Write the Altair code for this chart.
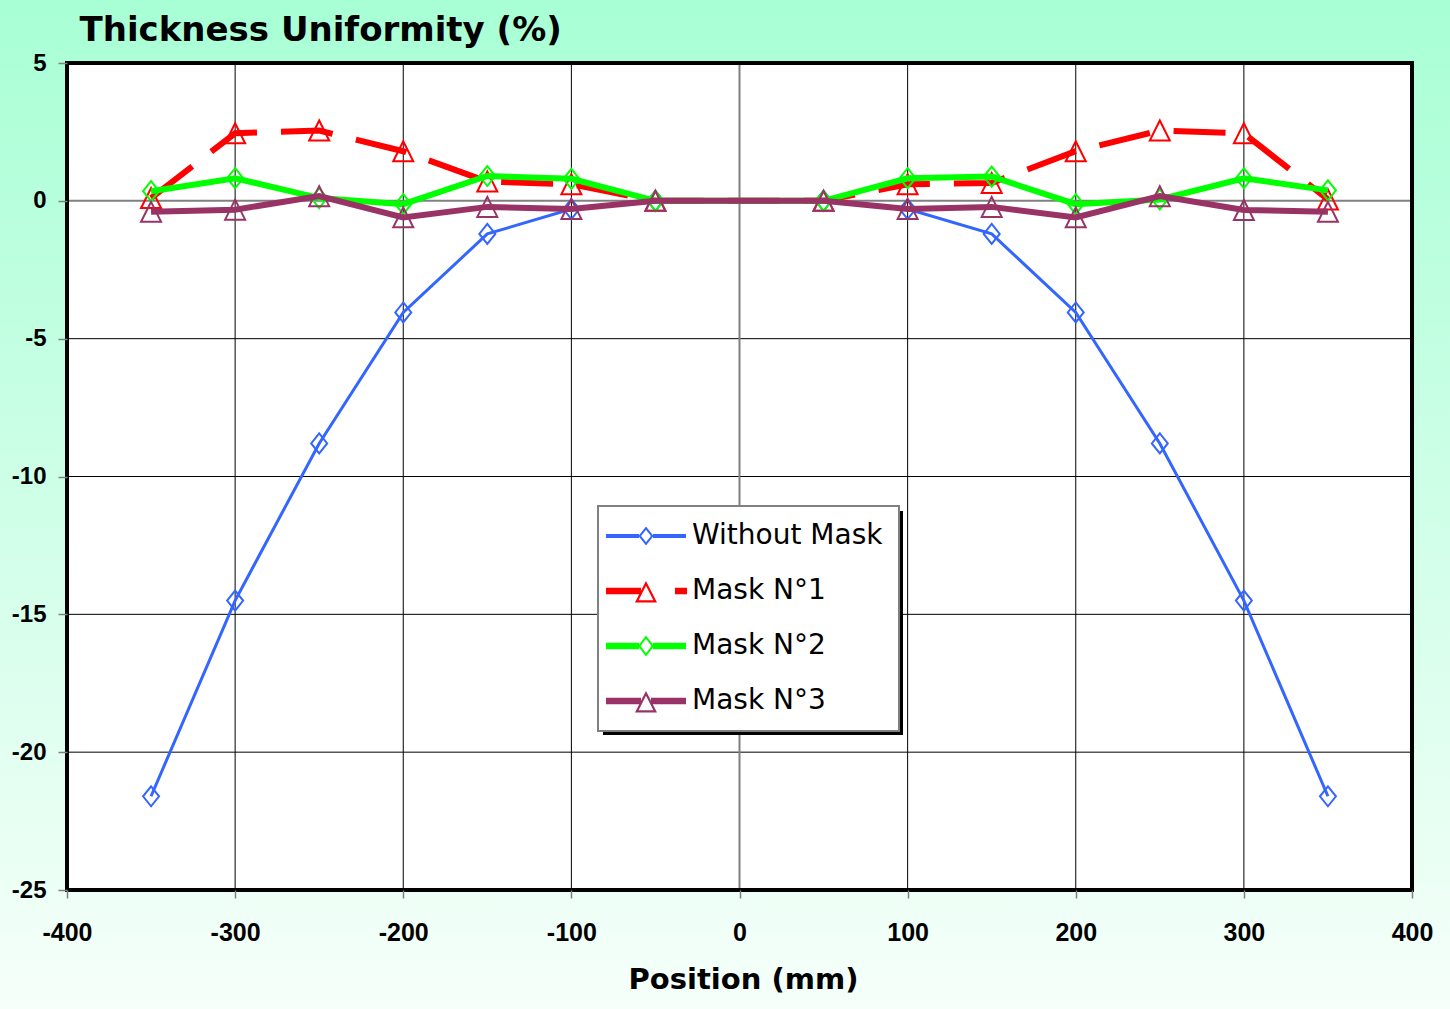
import math
import altair as alt
import pandas as pd

# ---------------- data ----------------
positions = [-350, -300, -250, -200, -150, -100, -50, 50, 100, 150, 200, 250, 300, 350]
without_mask = [-21.6, -14.5, -8.8, -4.05, -1.2, -0.3, 0.0, 0.0, -0.3, -1.2, -4.05, -8.8, -14.5, -21.6]
mask_1 = [0.1, 2.45, 2.55, 1.8, 0.7, 0.6, 0.0, 0.0, 0.6, 0.65, 1.8, 2.55, 2.45, 0.05]
mask_2 = [0.35, 0.82, 0.1, -0.12, 0.9, 0.8, 0.0, 0.0, 0.82, 0.88, -0.12, 0.05, 0.82, 0.38]
mask_3 = [-0.4, -0.32, 0.17, -0.6, -0.22, -0.3, 0.0, 0.0, -0.3, -0.22, -0.6, 0.17, -0.33, -0.4]

series_names = ["Without Mask", "Mask N°1", "Mask N°2", "Mask N°3"]
series_values = [without_mask, mask_1, mask_2, mask_3]

x_ticks = [-400, -300, -200, -100, 0, 100, 200, 300, 400]
y_ticks = [5, 0, -5, -10, -15, -20, -25]

# ---------------- layout / style ----------------
W, H = 1345, 827
PAD = {"left": 67, "top": 63, "right": 38, "bottom": 119}
TOTAL_W, TOTAL_H = 1450, 1009

colors = ["#3366FF", "#FF0000", "#00FF00", "#993366"]
widths = [3, 6, 6, 6]
dashes = [None, [52, 24], None, None]
DIAMOND = "M0,-1.25L1,0L0,1.25L-1,0Z"
TRIANGLE = "M0,-1L1,1L-1,1Z"
markers = [(DIAMOND, 256), (TRIANGLE, 400), (DIAMOND, 256), (TRIANGLE, 400)]

rows = []
for name, vals in zip(series_names, series_values):
    for p, v in zip(positions, vals):
        rows.append({"series": name, "position": p, "value": v})
df = pd.DataFrame(rows)

xscale = alt.Scale(domain=[x_ticks[0], x_ticks[-1]], nice=False, zero=False)
yscale = alt.Scale(domain=[y_ticks[-1], y_ticks[0]], nice=False, zero=False)

x_axis = alt.Axis(
    values=x_ticks, labelExpr="'' + datum.value", grid=False, domain=False, ticks=True,
    tickSize=8, tickColor="#808080", tickWidth=1.5,
    labelFont="Liberation Sans", labelFontSize=25, labelFontWeight="bold",
    labelColor="black", labelPadding=22, labelFlush=False, labelOverlap=False,
    title="Position (mm)", titleFont="DejaVu Sans", titleFontSize=29,
    titleFontWeight="bold", titleColor="black", titleX=676, titleY=98,
    titleBaseline="alphabetic", titleAlign="center", zindex=1,
)
y_axis = alt.Axis(
    values=y_ticks, labelExpr="'' + datum.value", grid=False, domain=False, ticks=True,
    tickSize=9, tickColor="#808080", tickWidth=1.5,
    labelFont="Liberation Sans", labelFontSize=24, labelFontWeight="bold",
    labelColor="black", labelPadding=12, labelFlush=False, labelOverlap=False,
    title="Thickness Uniformity (%)", titleFont="DejaVu Sans", titleFontSize=34,
    titleFontWeight="bold", titleColor="black", titleAngle=0,
    titleX=12, titleY=-23, titleAlign="left", titleBaseline="alphabetic", zindex=1,
)

X = lambda f: alt.X(f, type="quantitative", scale=xscale, axis=x_axis)
Y = lambda f: alt.Y(f, type="quantitative", scale=yscale, axis=y_axis)

one_row = pd.DataFrame({"k": [0]})

# gradient page background (decoration)
bg = alt.Chart(one_row).mark_rect(
    fill=alt.LinearGradient(
        gradient="linear", x1=0, x2=0, y1=0, y2=1,
        stops=[alt.GradientStop(offset=0, color="#A8FFD5"),
               alt.GradientStop(offset=1, color="#F6FFFA")],
    )
).encode(
    x=alt.value(-PAD["left"]), x2=alt.value(TOTAL_W - PAD["left"]),
    y=alt.value(-PAD["top"]), y2=alt.value(TOTAL_H - PAD["top"]),
)

# white plot area
plot_bg = alt.Chart(pd.DataFrame({"x0": [x_ticks[0]], "x1": [x_ticks[-1]],
                                  "y0": [y_ticks[-1]], "y1": [y_ticks[0]]})).mark_rect(
    fill="white").encode(x=X("x0"), x2="x1", y=Y("y0"), y2="y1")

# grid lines
inner_x = [t for t in x_ticks[1:-1] if t != 0]
inner_y = [t for t in y_ticks[1:-1] if t != 0]
grid_x = alt.Chart(pd.DataFrame({"gx": inner_x})).mark_rule(color="black", strokeWidth=1).encode(x=X("gx"))
grid_y = alt.Chart(pd.DataFrame({"gy": inner_y})).mark_rule(color="black", strokeWidth=1).encode(y=Y("gy"))
zero_x = alt.Chart(pd.DataFrame({"gx": [0]})).mark_rule(color="#808080", strokeWidth=2).encode(x=X("gx"))
zero_y = alt.Chart(pd.DataFrame({"gy": [0]})).mark_rule(color="#808080", strokeWidth=2).encode(y=Y("gy"))

# frame
frame_x = alt.Chart(pd.DataFrame({"fx": [x_ticks[0], x_ticks[-1]]})).mark_rule(
    color="black", strokeWidth=4, strokeCap="square").encode(x=X("fx"))
frame_y = alt.Chart(pd.DataFrame({"fy": [y_ticks[0], y_ticks[-1]]})).mark_rule(
    color="black", strokeWidth=4, strokeCap="square").encode(y=Y("fy"))

layers = [bg, plot_bg, grid_x, grid_y, zero_x, zero_y, frame_x, frame_y]

for name, col, w, dash, (shape, size) in zip(series_names, colors, widths, dashes, markers):
    base = alt.Chart(df).transform_filter(alt.datum.series == name)
    line_kw = dict(color=col, strokeWidth=w, strokeCap="butt", strokeJoin="miter")
    if dash:
        line_kw["strokeDash"] = dash
    layers.append(base.mark_line(**line_kw).encode(x=X("position"), y=Y("value")))
    layers.append(base.mark_point(shape=shape, size=size, filled=False, color=col,
                                  strokeWidth=2, opacity=1).encode(x=X("position"), y=Y("value")))

# ---------------- legend ----------------
K = 14.0  # px per path unit (sqrt(784)/2)


def u(v):
    return f"{v / K:.4f}"


def bar(x0, x1, t):
    return f"M{u(x0)},{u(-t)}H{u(x1)}V{u(t)}H{u(x0)}Z"


def diamond_ring(hw, hh, sw):
    r = hw * hh / math.hypot(hw, hh)
    f = (r - sw) / r
    iw, ih = hw * f, hh * f
    outer = f"M0,{u(-hh)}L{u(hw)},0L0,{u(hh)}L{u(-hw)},0Z"
    inner = f"M0,{u(-ih)}L{u(-iw)},0L0,{u(ih)}L{u(iw)},0Z"
    return outer + inner


def triangle_ring(top, bottom, hw, sw):
    A, B, C = (0.0, -top), (hw, bottom), (-hw, bottom)
    a = math.dist(B, C); b = math.dist(C, A); c = math.dist(A, B)
    p = a + b + c
    area = 0.5 * (2 * hw) * (top + bottom)
    r = area / (p / 2)
    ix = (a * A[0] + b * B[0] + c * C[0]) / p
    iy = (a * A[1] + b * B[1] + c * C[1]) / p
    f = (r - sw) / r
    Ai = (ix + f * (A[0] - ix), iy + f * (A[1] - iy))
    Bi = (ix + f * (B[0] - ix), iy + f * (B[1] - iy))
    Ci = (ix + f * (C[0] - ix), iy + f * (C[1] - iy))
    outer = f"M{u(A[0])},{u(A[1])}L{u(B[0])},{u(B[1])}L{u(C[0])},{u(C[1])}Z"
    inner = f"M{u(Ai[0])},{u(Ai[1])}L{u(Ci[0])},{u(Ci[1])}L{u(Bi[0])},{u(Bi[1])}Z"
    return outer + inner


legend_paths = [
    bar(-40, -7, 2) + bar(7, 40, 2) + diamond_ring(7.5, 9.5, 2),
    bar(-40, -5, 3.3) + bar(29, 41, 3.3) + triangle_ring(10, 11.5, 11, 2.2),
    bar(-40, -7, 3.3) + bar(7, 40, 3.3) + diamond_ring(8, 10.5, 2),
    bar(-40, -5, 3.3) + bar(5, 40, 3.3) + triangle_ring(10, 11.5, 11, 2.2),
]

LEG_X, LEG_Y = 531, 443
LEG_PAD = 16
LEG_W, LEG_H = 300, 224
leg = alt.Legend(
    orient="none", legendX=LEG_X, legendY=LEG_Y, title=None,
    fillColor="white", strokeColor="#808080", padding=LEG_PAD,
    symbolSize=784, symbolStrokeWidth=0, symbolOffset=18, symbolOpacity=1,
    labelOffset=32, labelFont="DejaVu Sans", labelFontSize=28, labelColor="black",
    labelLimit=400, rowPadding=27,
)

shadow = alt.Chart(one_row).mark_rect(color="black").encode(
    x=alt.value(LEG_X + 5), x2=alt.value(LEG_X + 5 + LEG_W),
    y=alt.value(LEG_Y + 5), y2=alt.value(LEG_Y + 5 + LEG_H),
)

legend_layer = alt.Chart(df).transform_filter("false").mark_point(
    filled=True, opacity=1, size=784
).encode(
    color=alt.Color("series:N", scale=alt.Scale(domain=series_names, range=colors), legend=leg),
    shape=alt.Shape("series:N", scale=alt.Scale(domain=series_names, range=legend_paths), legend=leg),
)

layers += [shadow, legend_layer]

chart = alt.layer(*layers).properties(
    width=W, height=H, padding=PAD,
    autosize=alt.AutoSizeParams(type="none"),
    background="#F6FFFA",
).configure_view(strokeWidth=0).configure_legend(strokeWidth=2)

chart.save("out.html", embed_options={"renderer": "svg", "actions": False})
